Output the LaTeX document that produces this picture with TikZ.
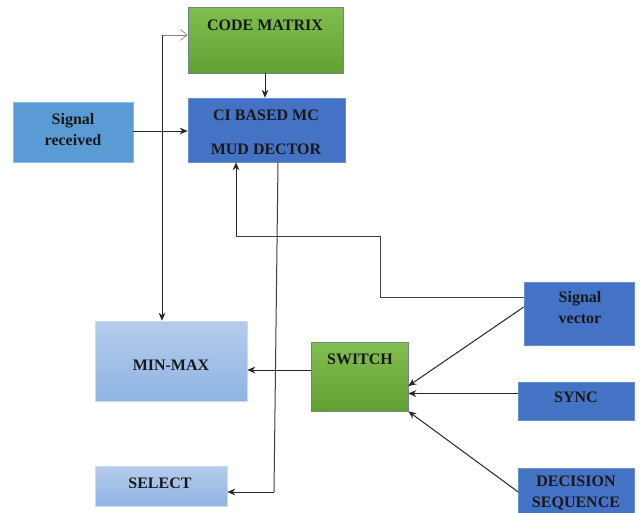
\documentclass[tikz,border=0pt]{standalone}
\usepackage{fontspec}
\setmainfont{Liberation Serif}
\usetikzlibrary{arrows.meta}
\definecolor{gtop}{RGB}{128,190,80}
\definecolor{gbot}{RGB}{98,160,52}
\definecolor{dblue}{RGB}{68,114,196}
\definecolor{mblue}{RGB}{91,155,213}
\definecolor{ltop}{RGB}{182,204,236}
\definecolor{lbot}{RGB}{142,180,227}
\definecolor{edge}{RGB}{120,130,140}
\tikzset{
  box/.style={draw=edge, line width=0.4pt, inner sep=0pt},
  greenbox/.style={box, top color=gtop, bottom color=gbot},
  darkbox/.style={box, fill=dblue, draw=dblue!80!white},
  midbox/.style={box, fill=mblue, draw=mblue!70!white},
  lightbox/.style={box, top color=ltop, bottom color=lbot, draw=ltop!70!white},
  txt/.style={font=\bfseries\fontsize{12}{15.5}\selectfont, text=black!90, align=center, inner sep=0pt},
  arr/.style={line width=0.75pt, draw=black!85, -{Stealth[length=6pt,width=5pt]}},
  ln/.style={line width=0.75pt, draw=black!75},
  openarr/.style={line width=0.5pt, draw=gray, -{Straight Barb[length=5pt,width=8pt]}}
}
\begin{document}
\begin{tikzpicture}[x=0.75pt,y=-0.75pt]
\useasboundingbox (0,0) rectangle (643,512);
\fill[white] (0,0) rectangle (643,512);
% boxes
\node[greenbox, minimum width=116.25pt, minimum height=49.5pt] (code) at (265.5,40) {};
\node[darkbox, minimum width=117.75pt, minimum height=48pt] (ci) at (266.5,130) {};
\node[midbox, minimum width=90pt, minimum height=45pt] (sigrec) at (73,132) {};
\node[lightbox, minimum width=114pt, minimum height=60pt] (minmax) at (171,361) {};
\node[greenbox, minimum width=72.75pt, minimum height=51.75pt] (switch) at (359.5,376.5) {};
\node[lightbox, minimum width=99pt, minimum height=30pt] (select) at (161,486) {};
\node[darkbox, minimum width=82.5pt, minimum height=47.25pt] (sigvec) at (579,313.5) {};
\node[darkbox, minimum width=87pt, minimum height=28.5pt] (sync) at (576.5,401) {};
\node[darkbox, minimum width=87pt, minimum height=46.5pt] (dec) at (576.5,499) {};
% texts
\node[txt] (tcode) at (265,25) {CODE MATRIX};
\node[txt] (tci1) at (266,115) {CI BASED MC};
\node[txt] (tci2) at (266,149) {MUD DECTOR};
\node[txt] (tsigrec) at (73,129.5) {Signal\\received};
\node[txt] (tminmax) at (171,365) {MIN-MAX};
\node[txt] (tswitch) at (360,359) {SWITCH};
\node[txt] (tselect) at (160,483) {SELECT};
\node[txt] (tsigvec) at (580,307.5) {Signal\\vector};
\node[txt] (tsync) at (576,397) {SYNC};
\node[txt] (tdec) at (576,493) {DECISION\\SEQUENCE};
% coordinates
\coordinate (tl) at (162,35);
\coordinate (sv1) at (380,297);
\coordinate (sv2) at (380,236);
\coordinate (sv3) at (236,236);
\coordinate (cib) at (278,162);
\coordinate (sel1) at (274,492);
% connectors
\draw[arr] (code.south -| 265,0) -- (ci.north -| 265,0);
\draw[arr] (sigrec.east |- 0,131) -- (ci.west |- 0,131);
\draw[openarr] (tl) -- (tl -| code.west);
\draw[arr] (tl) -- (tl |- minmax.north);
\draw[ln] (cib) -- (sel1);
\draw[arr] (sel1) -- (sel1 -| select.east);
\draw[ln] (sigvec.west |- sv1) -- (sv1) -- (sv2) -- (sv3);
\draw[arr] (sv3) -- (sv3 |- ci.south);
\draw[arr] (switch.west |- 0,370) -- (minmax.east |- 0,370);
\draw[arr] (sigvec.west |- 0,307) -- (switch.east |- 0,386);
\draw[arr] (sync.west |- 0,393.5) -- (switch.east |- 0,393.5);
\draw[arr] (dec.west |- 0,492) -- (switch.south east);
\end{tikzpicture}
\end{document}
